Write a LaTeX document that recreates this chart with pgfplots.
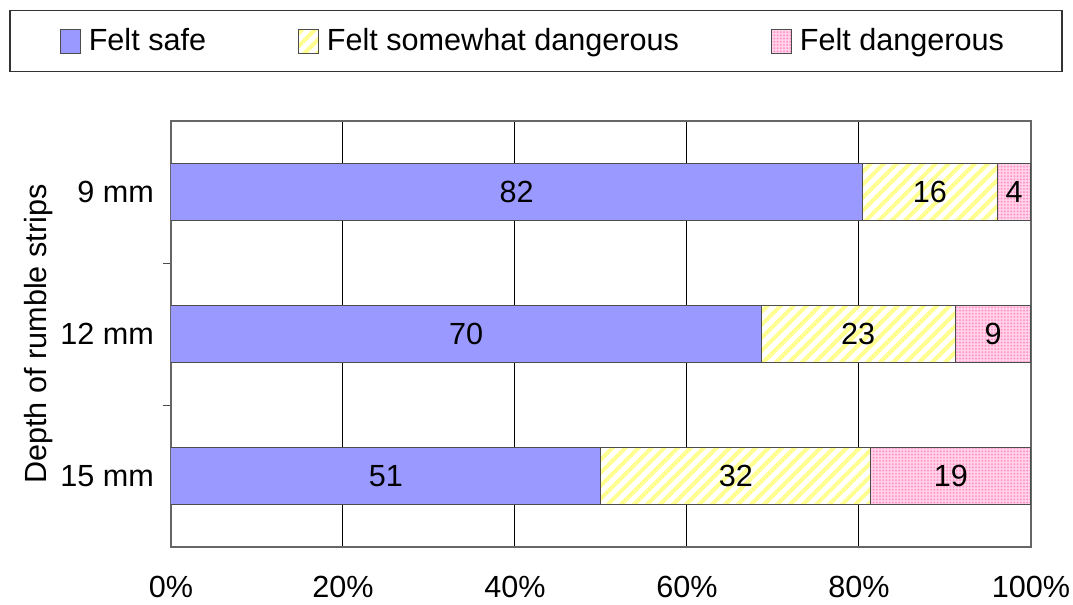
\documentclass[border=0pt]{standalone}
\usepackage{fontspec}
\setmainfont{Liberation Sans}
\usepackage{pgfplots}
\pgfplotsset{compat=1.18}
\usetikzlibrary{patterns,patterns.meta}
\definecolor{safeblue}{HTML}{9999FF}
\definecolor{stripeyellow}{HTML}{FFFF90}
\definecolor{dotpink}{HTML}{FF99CC}
\definecolor{pinkbg}{HTML}{FFD6EA}
\newcommand\cf{\fontsize{15.3}{18}\selectfont}
\begin{document}
\begin{tikzpicture}[font=\cf]
\path[use as bounding box] (-85.5pt,-29pt) rectangle (451pt,273.5pt);
\begin{axis}[at={(0,0)},anchor=south west,scale only axis,width=430pt,height=213pt,
  xbar stacked,bar width=28.5pt,
  xmin=0,xmax=100,ymin=-0.5,ymax=2.5,y dir=reverse,
  xtick={0,20,...,100},xticklabels={0\%,20\%,40\%,60\%,80\%,100\%},
  ytick={0,1,2},yticklabels={9 mm,12 mm,15 mm},
  minor ytick={0.5,1.5},ytick pos=left,xtick pos=bottom,
  major tick length=0pt,minor tick length=4pt,tick align=outside,
  minor tick style={black!70,line width=0.5pt},
  xmajorgrids,grid style={black,line width=0.5pt},
  axis line style={black!60,line width=0.6pt},
  tick label style={font=\cf},
  xticklabel style={yshift=-11pt},
  yticklabel style={xshift=-5pt},
  ylabel={Depth of rumble strips},
  ylabel style={font=\cf,at={(axis description cs:-0.154,0.5)},anchor=center},
  legend style={font=\cf,at={(axis description cs:0.4244,1.2606)},anchor=north,
    legend columns=3,draw=black!80,line width=0.6pt,inner xsep=25pt,inner ysep=7pt,
    /tikz/every odd column/.append style={column sep=0pt},
    /tikz/every even column/.append style={column sep=42pt},
    nodes={inner xsep=4pt}},
  legend image code/.code={\draw[#1,line width=0.4pt] (0pt,-6pt) rectangle (10pt,6pt);},
]
\addplot[fill=safeblue,draw=black!70,line width=0.5pt] coordinates {(80.392,0) (68.627,1) (50.0,2)};
\addplot[preaction={fill=white},pattern={Lines[angle=45,distance=4.6pt,line width=2pt]},pattern color=stripeyellow,draw=black!70,line width=0.5pt] coordinates {(15.686,0) (22.549,1) (31.373,2)};
\addplot[preaction={fill=pinkbg},pattern={Dots[distance=1.6pt,radius=0.6pt]},pattern color=dotpink,draw=black!70,line width=0.5pt] coordinates {(3.922,0) (8.824,1) (18.627,2)};
\legend{Felt safe,Felt somewhat dangerous,Felt dangerous}
\end{axis}
\begin{axis}[at={(0,0)},anchor=south west,scale only axis,width=430pt,height=213pt,
  xmin=0,xmax=100,ymin=-0.5,ymax=2.5,y dir=reverse,hide axis]
\addplot[draw=none,nodes near coords,point meta=explicit symbolic,
  nodes near coords style={anchor=center,font=\cf,text=black}] coordinates {
  (40.196,0) [82] (88.235,0) [16] (98.039,0) [4]
  (34.314,1) [70] (79.902,1) [23] (95.588,1) [9]
  (25.0,2) [51] (65.686,2) [32] (90.686,2) [19]};
\end{axis}
\end{tikzpicture}
\end{document}
